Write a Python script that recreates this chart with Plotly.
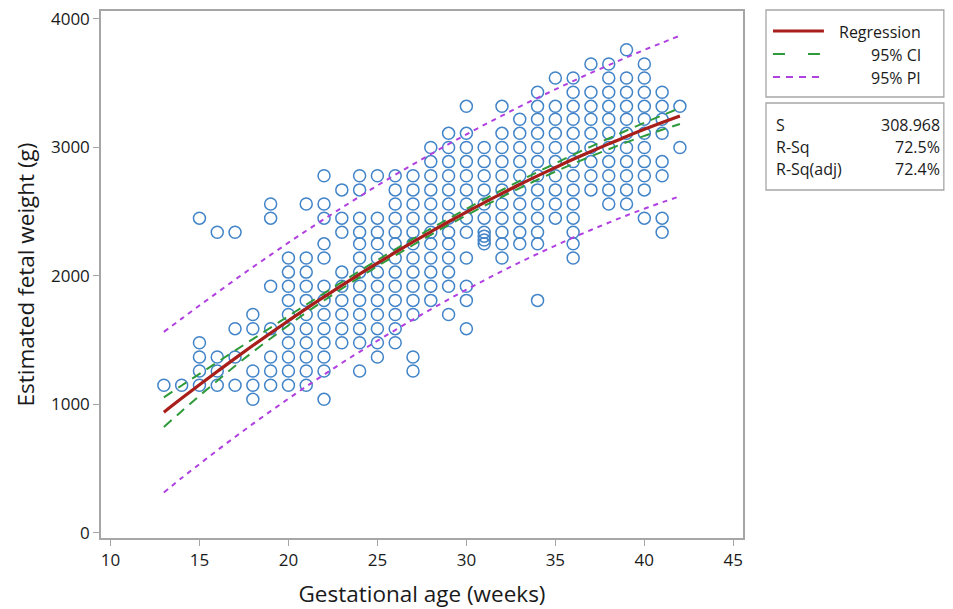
import plotly.graph_objects as go

# ---------------- data ----------------
scatter_weeks = [13, 14, 15, 16, 17, 18, 19, 20, 21, 22, 23, 24, 25, 26, 27,
                 28, 29, 30, 31, 32, 33, 34, 35, 36, 37, 38, 39, 40, 41, 42]

weights_by_week = [
    [1150],
    [1150],
    [1150, 1260, 1370, 1480, 2450],
    [1150, 1260, 1370, 2340],
    [1150, 1370, 1590, 2340],
    [1040, 1150, 1260, 1590, 1700],
    [1150, 1260, 1370, 1590, 1920, 2450, 2560],
    [1150, 1260, 1370, 1480, 1590, 1700, 1810, 1920, 2030, 2140],
    [1150, 1260, 1370, 1480, 1590, 1700, 1810, 1920, 2030, 2140, 2560],
    [1040, 1260, 1370, 1480, 1590, 1700, 1810, 1920, 2140, 2250, 2450, 2560, 2780],
    [1480, 1590, 1700, 1810, 1920, 2030, 2340, 2450, 2670],
    [1260, 1480, 1590, 1700, 1810, 1920, 2030, 2140, 2250, 2340, 2450, 2670, 2780],
    [1370, 1480, 1590, 1700, 1810, 1920, 2030, 2140, 2250, 2340, 2450, 2780],
    [1480, 1590, 1700, 1810, 1920, 2030, 2140, 2250, 2340, 2450, 2560, 2670, 2780],
    [1260, 1370, 1700, 1810, 1920, 2030, 2140, 2250, 2340, 2450, 2560, 2670, 2780],
    [1810, 1920, 2030, 2140, 2250, 2340, 2450, 2560, 2670, 2780, 2890, 3000],
    [1700, 1920, 2030, 2140, 2250, 2340, 2450, 2560, 2670, 2780, 2890, 3000, 3110],
    [1590, 1810, 1920, 2140, 2340, 2450, 2560, 2670, 2780, 2890, 3000, 3110, 3320],
    [2250, 2280, 2310, 2340, 2450, 2560, 2670, 2780, 2890, 3000],
    [2140, 2250, 2340, 2450, 2560, 2670, 2780, 2890, 3000, 3110, 3320],
    [2250, 2340, 2450, 2560, 2670, 2780, 2890, 3000, 3110, 3220],
    [1810, 2250, 2340, 2450, 2560, 2670, 2780, 2890, 3000, 3110, 3220, 3320, 3430],
    [2450, 2560, 2670, 2780, 2890, 3000, 3110, 3220, 3320, 3540],
    [2140, 2250, 2340, 2450, 2560, 2670, 2780, 2890, 3000, 3110, 3220, 3320, 3430, 3540],
    [2670, 2780, 2890, 3000, 3110, 3220, 3320, 3430, 3650],
    [2560, 2670, 2780, 2890, 3000, 3110, 3220, 3320, 3430, 3540, 3650],
    [2560, 2670, 2780, 2890, 3000, 3110, 3220, 3320, 3430, 3540, 3760],
    [2450, 2670, 2780, 2890, 3000, 3110, 3220, 3320, 3430, 3540, 3650],
    [2340, 2450, 2780, 2890, 3110, 3220, 3320, 3430],
    [3000, 3320],
]

curve_weeks = [13, 14, 15, 16, 17, 18, 19, 20, 21, 22, 23, 24, 25, 26, 27,
               28, 29, 30, 31, 32, 33, 34, 35, 36, 37, 38, 39, 40, 41, 42]
regression = [940, 1048, 1153, 1257, 1359, 1459, 1556, 1652, 1746, 1837, 1927, 2014,
              2100, 2183, 2265, 2344, 2422, 2497, 2571, 2642, 2712, 2779, 2844, 2908,
              2969, 3028, 3086, 3141, 3194, 3245]
ci_upper = [1055, 1148, 1238, 1329, 1419, 1509, 1598, 1688, 1777, 1865, 1953, 2039,
            2124, 2207, 2289, 2368, 2446, 2522, 2597, 2669, 2740, 2809, 2876, 2943,
            3007, 3070, 3132, 3192, 3250, 3307]
ci_lower = [825, 948, 1068, 1185, 1299, 1409, 1514, 1616, 1715, 1809, 1901, 1989,
            2076, 2159, 2241, 2320, 2398, 2472, 2545, 2615, 2684, 2749, 2812, 2873,
            2931, 2986, 3040, 3090, 3138, 3183]
pi_upper = [1565, 1668, 1770, 1871, 1971, 2069, 2164, 2259, 2352, 2442, 2531, 2618,
            2704, 2787, 2869, 2948, 3026, 3101, 3176, 3247, 3318, 3386, 3452, 3517,
            3580, 3641, 3701, 3759, 3815, 3870]
pi_lower = [315, 428, 536, 643, 747, 849, 948, 1045, 1140, 1232, 1323, 1410,
            1496, 1579, 1661, 1740, 1818, 1893, 1966, 2037, 2106, 2172, 2236, 2299,
            2358, 2415, 2471, 2523, 2573, 2620]

x_ticks = [10, 15, 20, 25, 30, 35, 40, 45]
y_ticks = [0, 1000, 2000, 3000, 4000]

legend_labels = ["Regression", "95% CI", "95% PI"]
stat_names = ["S", "R-Sq", "R-Sq(adj)"]
stat_values = ["308.968", "72.5%", "72.4%"]

# ---------------- figure ----------------
RED = "#A81E1A"
GREEN = "#2E9A3A"
PURPLE = "#B040E0"
BLUE = "#4284C8"
FONT = "Open Sans"
TXT = "#1a1a1a"

xs, ys = [], []
for w, vals in zip(scatter_weeks, weights_by_week):
    for v in vals:
        xs.append(w)
        ys.append(v)

fig = go.Figure()
fig.add_trace(go.Scatter(
    x=xs, y=ys, mode="markers",
    marker=dict(symbol="circle-open", size=12, color=BLUE, line=dict(width=1.5, color=BLUE)),
    showlegend=False, hoverinfo="skip"))

for yv in (pi_upper, pi_lower):
    fig.add_trace(go.Scatter(x=curve_weeks, y=yv, mode="lines", line_shape="spline",
                             line=dict(color=PURPLE, width=2, dash="5px,5px"),
                             showlegend=False))
for yv in (ci_upper, ci_lower):
    fig.add_trace(go.Scatter(x=curve_weeks, y=yv, mode="lines", line_shape="spline",
                             line=dict(color=GREEN, width=2, dash="10px,7px"),
                             showlegend=False))
fig.add_trace(go.Scatter(x=curve_weeks, y=regression, mode="lines", line_shape="spline",
                         line=dict(color=RED, width=3.2), showlegend=False))

# plot frame geometry in pixels
L, R, T, B = 100.5, 743, 11, 538
W, H = 953, 609
pw, ph = R - L, B - T


def px(xp):
    return (xp - L) / pw


def py(yp):
    return (B - yp) / ph


shapes = []
annotations = []
FRAME = "#A6A6A6"

# legend boxes
shapes.append(dict(type="rect", xref="paper", yref="paper",
                   x0=px(766), x1=px(944), y0=py(97), y1=py(10),
                   line=dict(color=FRAME, width=1.3), fillcolor="white"))
shapes.append(dict(type="rect", xref="paper", yref="paper",
                   x0=px(766), x1=px(944), y0=py(190), y1=py(103),
                   line=dict(color=FRAME, width=1.3), fillcolor="white"))

legend_rows = [31, 54, 77]
shapes.append(dict(type="line", xref="paper", yref="paper", x0=px(773), x1=px(824),
                   y0=py(legend_rows[0]), y1=py(legend_rows[0]),
                   line=dict(color=RED, width=3.2)))
shapes.append(dict(type="line", xref="paper", yref="paper", x0=px(773), x1=px(820),
                   y0=py(legend_rows[1]), y1=py(legend_rows[1]),
                   line=dict(color=GREEN, width=2, dash="12px,23px")))
shapes.append(dict(type="line", xref="paper", yref="paper", x0=px(773), x1=px(824),
                   y0=py(legend_rows[2]), y1=py(legend_rows[2]),
                   line=dict(color=PURPLE, width=2, dash="7px,6px")))

for lab, r in zip(legend_labels, legend_rows):
    annotations.append(dict(text=lab, xref="paper", yref="paper", x=px(923), y=py(r + 1),
                            xanchor="right", yanchor="middle", showarrow=False,
                            font=dict(family=FONT, size=16, color=TXT)))

stat_rows = [125, 147, 169]
for n, v, r in zip(stat_names, stat_values, stat_rows):
    annotations.append(dict(text=n, xref="paper", yref="paper", x=px(774), y=py(r),
                            xanchor="left", yanchor="middle", showarrow=False,
                            font=dict(family=FONT, size=16, color=TXT)))
    annotations.append(dict(text=v, xref="paper", yref="paper", x=px(942), y=py(r),
                            xanchor="right", yanchor="middle", showarrow=False,
                            font=dict(family=FONT, size=16, color=TXT)))

fig.update_layout(
    width=W, height=H,
    margin=dict(l=L, r=W - R, t=T, b=H - B),
    paper_bgcolor="white", plot_bgcolor="white",
    font=dict(family=FONT, color=TXT),
    shapes=shapes, annotations=annotations,
    showlegend=False,
)
fig.update_xaxes(
    range=[9.467, 45.545], tickvals=x_ticks, ticks="outside", ticklen=6, tickwidth=1.2,
    tickcolor=FRAME, showline=True, linecolor=FRAME, linewidth=1.5, mirror=True,
    showgrid=False, zeroline=False, automargin=False,
    tickfont=dict(family=FONT, size=17, color=TXT),
    title=dict(text="Gestational age (weeks)", font=dict(family=FONT, size=22.5, color=TXT),
               standoff=22),
)
fig.update_yaxes(
    range=[-39, 4062], tickvals=y_ticks, ticks="outside", ticklen=6, tickwidth=1.2,
    tickcolor=FRAME, showline=True, linecolor=FRAME, linewidth=1.5, mirror=True,
    showgrid=False, zeroline=False, automargin=False,
    tickfont=dict(family=FONT, size=17, color=TXT),
    title=dict(text="Estimated fetal weight (g)", font=dict(family=FONT, size=22.5, color=TXT),
               standoff=10),
)

fig.write_html("out.html")
